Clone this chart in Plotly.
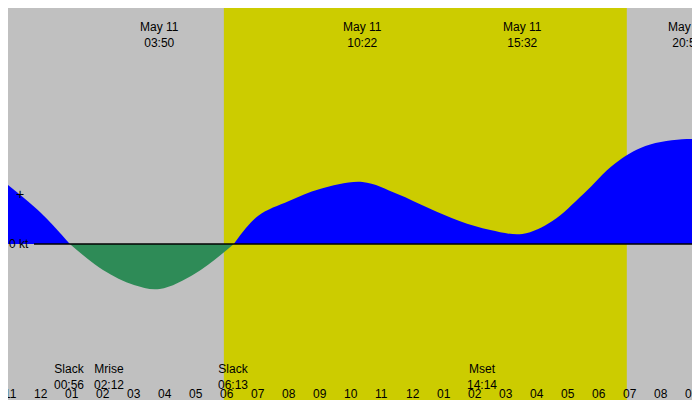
import plotly.graph_objects as go

hours = [-1.065, 0, 0.93, 2, 3, 3.83, 5, 6.22, 7, 8, 9, 10.37, 11.5, 12.5, 13.5, 14.5, 15.53, 16.5, 17.5, 18.5, 19.5, 20.83, 21.52]
speed = [1.18, 0.62, 0, -0.52, -0.82, -0.9, -0.58, 0, 0.56, 0.86, 1.1, 1.24, 1.0, 0.72, 0.46, 0.28, 0.2, 0.46, 1.0, 1.6, 1.96, 2.1, 2.08]
top_times = [3.83, 10.37, 15.53, 20.83]
top_labels = ["May 11<br>03:50", "May 11<br>10:22", "May 11<br>15:32", "May 11<br>20:50"]
event_times = [0.93, 2.2, 6.22, 14.23]
event_labels = ["Slack<br>00:56", "Mrise<br>02:12", "Slack<br>06:13", "Mset<br>14:14"]
sunrise, sunset = 5.9, 18.9
X0, X1 = -1.065, 21.52

def py(p):  # pixel to data y
    return 4.72 - p / 50.0

FONT = dict(size=12, color="black", family="Liberation Sans")
fig = go.Figure()
fig.add_shape(type="rect", x0=sunrise, x1=sunset, y0=py(400), y1=py(0), fillcolor="#CCCC00", line_width=0, layer="below")
segs = [(0, 2, "#0000FF"), (2, 7, "#2E8B57"), (7, len(hours) - 1, "#0000FF")]
for a, b, c in segs:
    fig.add_trace(go.Scatter(x=hours[a:b + 1], y=speed[a:b + 1], mode="lines", line=dict(color=c, width=0, shape="spline"),
                             fill="tozeroy", fillcolor=c, hoverinfo="skip"))
fig.add_shape(type="line", x0=(26 - 33) / 31, x1=X1, y0=0, y1=0, line=dict(color="black", width=1.5))
fig.add_annotation(x=X0, y=0, text="0 kt", showarrow=False, xanchor="left", yanchor="middle", font=FONT, borderpad=0)
fig.add_annotation(x=(12 - 33) / 31, y=1, text="+", showarrow=False, xanchor="center", yanchor="middle", font=dict(size=14, color="black"))
fig.add_annotation(x=(350 - 33) / 31, y=py(-2), text="Iroquois Point, Pearl Harbor (depth 64 ft), Oahu Island, Hawaii Current",
                   showarrow=False, xanchor="center", yanchor="top", font=FONT, borderpad=0)
for t, l in zip(top_times, top_labels):
    xa = "center"
    if t > 20.5:
        xa = "right"; t = X1
    fig.add_annotation(x=t, y=py(11), text=l, showarrow=False, xanchor=xa, yanchor="top", font=FONT, borderpad=0)
for t, l in zip(event_times, event_labels):
    fig.add_annotation(x=t, y=py(353), text=l, showarrow=False, xanchor="center", yanchor="top", font=FONT, borderpad=0)
    fig.add_shape(type="line", x0=t, x1=t, y0=py(400), y1=py(392), line=dict(color="red", width=1.5))
for h in range(-1, 22):
    lab = "%02d" % ((h % 12) or 12)
    fig.add_annotation(x=h, y=py(378), text=lab, showarrow=False, xanchor="center", yanchor="top", font=FONT, borderpad=0)
    fig.add_shape(type="line", x0=h, x1=h, y0=py(400), y1=py(392), line=dict(color="black", width=3 if h == 0 else 1))

fig.update_layout(width=700, height=400, margin=dict(l=0, r=0, t=0, b=0, autoexpand=False),
                  paper_bgcolor="#C0C0C0", plot_bgcolor="#C0C0C0",
                  showlegend=False, font=FONT,
                  xaxis=dict(range=[X0, X1], visible=False, fixedrange=True),
                  yaxis=dict(range=[py(400), py(0)], visible=False, fixedrange=True))
fig.write_html("out.html", config={"displayModeBar": False})
